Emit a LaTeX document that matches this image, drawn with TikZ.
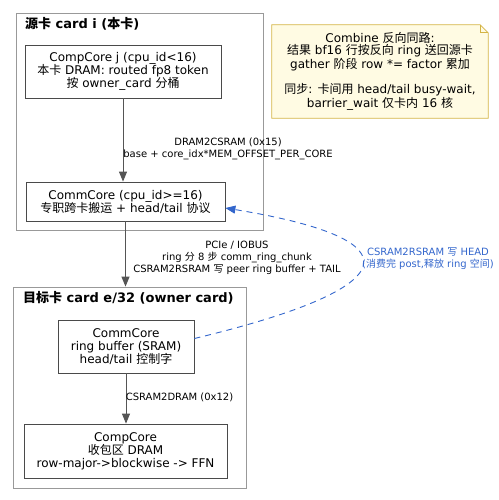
\documentclass[tikz,border=0pt]{standalone}
\usepackage{fontspec}
\setmainfont{DejaVu Sans}
\newfontfamily\cjkfont{Noto Sans CJK SC}
\newcommand*{\zh}[1]{{\cjkfont #1}}
\newcommand*{\nodefont}{\fontsize{12}{13}\selectfont}
\newcommand*{\notefont}{\fontsize{12}{12}\selectfont}
\newcommand*{\labelfont}{\fontsize{10}{12}\selectfont}
\newcommand*{\titlefont}{\fontsize{13}{14}\selectfont\bfseries}
\usetikzlibrary{arrows.meta}

\definecolor{edgegray}{HTML}{555555}
\definecolor{boxgray}{HTML}{4A4A4A}
\definecolor{clustergray}{HTML}{999999}
\definecolor{notefill}{HTML}{FFFBE3}
\definecolor{notedraw}{HTML}{D4B445}
\definecolor{syncblue}{HTML}{3366CC}

\begin{document}
\begin{tikzpicture}
[
	x=1pt, y=-1pt,
	cluster/.style={draw=clustergray,line width=0.8pt,inner sep=0pt},
	corebox/.style={draw=boxgray,line width=0.8pt,inner sep=0pt,align=center,font=\nodefont},
	cardtitle/.style={anchor=west,inner sep=0pt,font=\titlefont},
	flow/.style={-{Triangle[length=10pt,width=8pt]},draw=edgegray,line width=1pt},
	elabel/.style={align=center,inner sep=0pt,font=\labelfont},
]
	\useasboundingbox (0,0) rectangle (498,500);

	% source card
	\node[cluster,minimum width=247pt,minimum height=217pt] (src) at (139.5,121.5) {};
	\node[cardtitle] (srctitle) at (25,24) {\zh{源卡} card i (\zh{本卡})};
	\node[corebox,minimum width=196pt,minimum height=53pt] (compj) at (123,71.5)
		{CompCore j (cpu\_id<16)\\\zh{本卡} DRAM: routed fp8 token\\\zh{按} owner\_card \zh{分桶}};
	\node[corebox,minimum width=199pt,minimum height=39pt] (comm) at (125.5,201.5)
		{CommCore (cpu\_id>=16)\\\zh{专职跨卡搬运} + head/tail \zh{协议}};

	% owner card
	\node[cluster,minimum width=233pt,minimum height=201pt] (dst) at (129.5,387.5) {};
	\node[cardtitle] (dsttitle) at (23,298) {\zh{目标卡} card e/32 (owner card)};
	\node[corebox,minimum width=136pt,minimum height=53pt] (ring) at (126,346.5)
		{CommCore\\ring buffer (SRAM)\\head/tail \zh{控制字}};
	\node[corebox,minimum width=203pt,minimum height=54pt] (compe) at (125.5,451)
		{CompCore\\\zh{收包区} DRAM\\row-major->blockwise -> FFN};

	% note
	\node[inner sep=0pt,minimum width=216pt,minimum height=93pt] (note) at (380,71.5) {};
	\fill[notefill] (note.north west) -- ([xshift=-8pt]note.north east) -- ([yshift=-8pt]note.north east)
		-- (note.south east) -- (note.south west) -- cycle;
	\draw[notedraw,line width=0.8pt] (note.north west) -- ([xshift=-8pt]note.north east)
		-- ([yshift=-8pt]note.north east) -- (note.south east) -- (note.south west) -- cycle;
	\draw[notedraw,line width=0.8pt] ([xshift=-8pt]note.north east) -- ([xshift=-8pt,yshift=-8pt]note.north east)
		-- ([yshift=-8pt]note.north east);
	\node[align=center,inner sep=0pt,font=\notefont] (notetext) at (note.center)
		{Combine \zh{反向同路}:\\\zh{结果} bf16 \zh{行按反向} ring \zh{送回源卡}\\gather \zh{阶段} row *= factor \zh{累加}\\[12pt]
		\zh{同步}: \zh{卡间用} head/tail busy-wait,\\barrier\_wait \zh{仅卡内} 16 \zh{核}};

	% edges
	\draw[flow] (compj.south) -- (compj.south |- comm.north);
	\node[elabel] (dram2sram) at (228,149) {DRAM2CSRAM (0x15)\\base + core\_idx*MEM\_OFFSET\_PER\_CORE};
	\draw[flow] (comm.south) -- (comm.south |- dst.north);
	\node[elabel] (pcie) at (237,258) {PCIe / IOBUS\\ring \zh{分} 8 \zh{步} comm\_ring\_chunk\\CSRAM2RSRAM \zh{写} peer ring buffer + TAIL};
	\draw[flow] (ring.south) -- (ring.south |- compe.north);
	\node[elabel] (sram2dram) at (179.5,397) {CSRAM2DRAM (0x12)};

	% head write back
	\draw[syncblue,line width=0.9pt,dash pattern=on 6pt off 5pt,-{Triangle[length=10pt,width=8pt]}]
		([yshift=8pt]ring.east) .. controls (405,288) and (420,240) .. ([yshift=-6.5pt]comm.east);
	\node[elabel,text=syncblue] (headlbl) at (428,259) {CSRAM2RSRAM \zh{写} HEAD\\(\zh{消费完} post,\zh{释放} ring \zh{空间})};

\end{tikzpicture}
\end{document}
